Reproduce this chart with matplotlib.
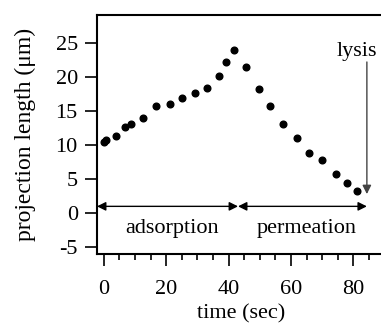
import matplotlib
matplotlib.use("Agg")
import matplotlib.pyplot as plt
from matplotlib.ticker import MultipleLocator

plt.rcParams['font.family'] = ['Liberation Serif', 'DejaVu Serif']

# projection length of the vesicle over time
time_s = [0.0, 0.6, 3.8, 6.8, 8.6, 12.5, 16.8, 21.2, 24.9, 29.2, 33.2, 36.9, 39.1, 41.6,
          45.5, 49.6, 53.2, 57.5, 61.9, 65.8, 69.9, 74.3, 77.9, 81.2]
length_um = [10.4, 10.7, 11.3, 12.6, 13.1, 14.0, 15.8, 16.1, 16.9, 17.6, 18.4, 20.1, 22.2, 24.0,
             21.5, 18.3, 15.8, 13.1, 11.1, 8.9, 7.8, 5.7, 4.5, 3.3]

x_ticks = [0, 20, 40, 60, 80]
y_ticks = [-5, 0, 5, 10, 15, 20, 25]

phase_names = ["adsorption", "permeation"]
phase_bounds = [(-2.2, 43.0), (43.0, 84.3)]
lysis_time = 84.3

fig = plt.figure(figsize=(3.81, 3.24), dpi=100)
ax = fig.add_axes([0.2546, 0.216, 0.755, 0.7377])

ax.plot(time_s, length_um, 'o', color='black', markersize=4.8, linestyle='none')

ax.set_xlim(-2.2, 90)
ax.set_ylim(-6.0, 29.1)
ax.set_xticks(x_ticks)
ax.set_yticks(y_ticks)
ax.set_yticklabels([str(v) for v in y_ticks])
ax.xaxis.set_minor_locator(MultipleLocator(5))

for s in ['left', 'top', 'bottom']:
    ax.spines[s].set_linewidth(1.5)
ax.spines['right'].set_visible(False)
ax.tick_params(axis='both', which='major', direction='out', length=8.8, width=1.2,
               labelsize=16)
ax.tick_params(axis='y', which='major', pad=5)
ax.tick_params(axis='x', which='major', pad=10)
ax.tick_params(axis='x', which='minor', direction='out', length=4, width=1.2)
ax.tick_params(axis='y', which='minor', left=False)
ax.tick_params(top=False, right=False)

ax.set_xlabel("time (sec)", fontsize=16, labelpad=4)
ax.set_ylabel("projection length (μm)", fontsize=17, labelpad=14)

# phase arrows along y = 1
for name, (x0, x1) in zip(phase_names, phase_bounds):
    ax.annotate("", xy=(x1, 1.0), xytext=(x0, 1.0),
                arrowprops=dict(arrowstyle='<|-|>', color='black', lw=1.0,
                                mutation_scale=13, shrinkA=0, shrinkB=0))
    ax.text((x0 + x1) / 2 + 1.5, -2.2, name, ha='center', va='center', fontsize=16)

# lysis marker
ax.annotate("", xy=(lysis_time, 2.8), xytext=(lysis_time, 22.2),
            arrowprops=dict(arrowstyle='-|>', color='#444444', lw=1.0,
                            mutation_scale=13, shrinkA=0, shrinkB=0))
ax.text(81.2, 23.8, "lysis", ha='center', va='center', fontsize=16)

fig.savefig("out.png", dpi=100)
